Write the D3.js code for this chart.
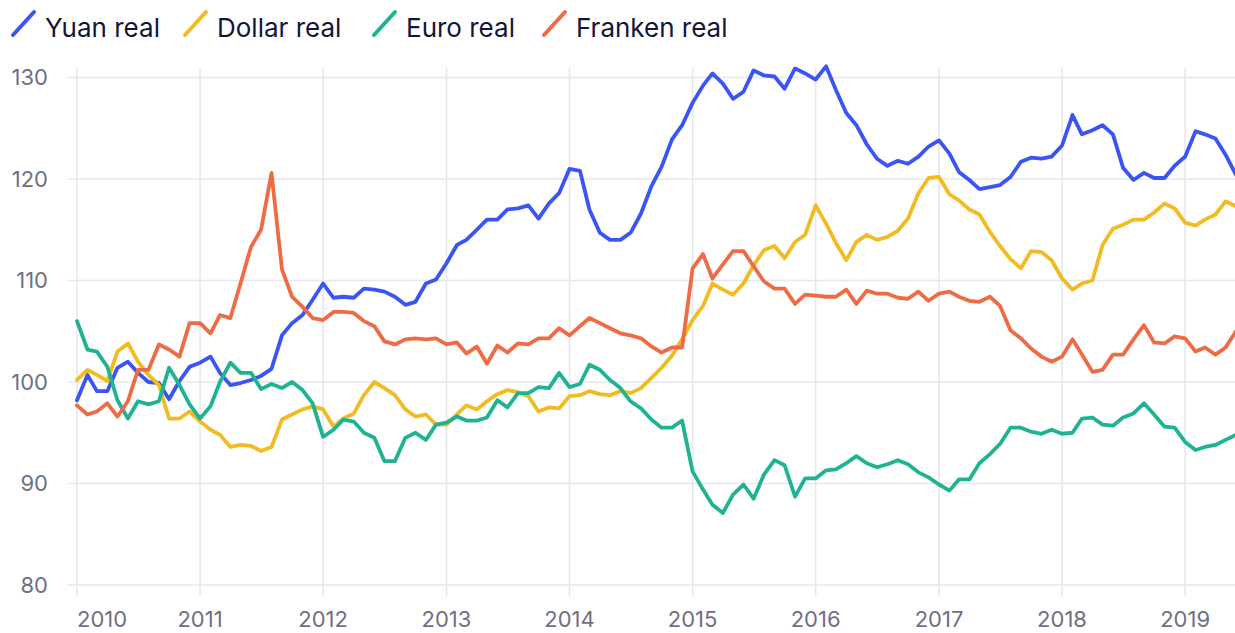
<!DOCTYPE html>
<html>
<head>
<meta charset="utf-8">
<script src="https://cdn.jsdelivr.net/npm/d3@7"></script>
<style>
  body { margin: 0; background: #fff; }
  svg { display: block; font-family: Inter, "Noto Sans", sans-serif; }
</style>
</head>
<body>
<div id="chart"></div>
<script>
// Monthly index values, Jan 2010 - Jun 2019
const seriesNames = ['Yuan real', 'Dollar real', 'Euro real', 'Franken real'];
const seriesColors = ['#3a55f4', '#f1bc22', '#20b393', '#ee6b45'];

const yuan = [
  98.2, 100.7, 99.1, 99.1, 101.4, 102.0, 100.9, 100.0, 99.9, 98.3, 100.1, 101.5,
  101.9, 102.5, 100.9, 99.7, 99.9, 100.2, 100.6, 101.3, 104.6, 105.8, 106.6, 108.1,
  109.7, 108.3, 108.4, 108.3, 109.2, 109.1, 108.9, 108.4, 107.6, 107.9, 109.7, 110.1,
  111.7, 113.5, 114.0, 115.0, 116.0, 116.0, 117.0, 117.1, 117.4, 116.1, 117.6, 118.6,
  121.0, 120.8, 117.0, 114.7, 114.0, 114.0, 114.7, 116.6, 119.3, 121.2, 123.9, 125.3,
  127.5, 129.2, 130.4, 129.4, 127.9, 128.6, 130.7, 130.2, 130.1, 128.9, 130.9, 130.4,
  129.8, 131.1, 128.8, 126.5, 125.3, 123.4, 122.0, 121.3, 121.8, 121.5, 122.2, 123.2,
  123.8, 122.5, 120.7, 119.9, 119.0, 119.2, 119.4, 120.2, 121.7, 122.1, 122.0, 122.2,
  123.3, 126.3, 124.4, 124.8, 125.3, 124.4, 121.1, 119.9, 120.6, 120.1, 120.1, 121.3,
  122.2, 124.7, 124.4, 124.0, 122.4, 120.4
];

const dollar = [
  100.2, 101.2, 100.7, 100.1, 103.0, 103.8, 102.0, 100.7, 99.7, 96.4, 96.4, 97.1,
  96.1, 95.3, 94.8, 93.6, 93.8, 93.7, 93.2, 93.6, 96.3, 96.8, 97.3, 97.6,
  97.3, 95.6, 96.4, 96.9, 98.7, 100.0, 99.4, 98.7, 97.3, 96.6, 96.8, 95.8,
  95.8, 96.8, 97.7, 97.3, 98.1, 98.8, 99.2, 99.0, 98.6, 97.1, 97.5, 97.4,
  98.6, 98.7, 99.1, 98.8, 98.7, 99.1, 98.9, 99.4, 100.4, 101.4, 102.6, 104.2,
  106.1, 107.5, 109.7, 109.1, 108.6, 109.7, 111.5, 113.0, 113.4, 112.2, 113.8, 114.5,
  117.4, 115.6, 113.7, 112.0, 113.8, 114.5, 114.0, 114.3, 114.9, 116.1, 118.6, 120.1,
  120.2, 118.5, 117.9, 117.0, 116.5, 114.8, 113.4, 112.1, 111.2, 112.9, 112.8, 112.0,
  110.2, 109.1, 109.7, 110.0, 113.5, 115.1, 115.5, 116.0, 116.0, 116.7, 117.6, 117.1,
  115.7, 115.4, 116.0, 116.5, 117.8, 117.3
];

const euro = [
  106.0, 103.2, 103.0, 101.5, 98.2, 96.4, 98.1, 97.8, 98.1, 101.4, 99.7, 97.8,
  96.4, 97.6, 100.0, 101.9, 100.9, 100.9, 99.3, 99.8, 99.4, 100.0, 99.2, 97.9,
  94.6, 95.3, 96.3, 96.1, 95.0, 94.5, 92.2, 92.2, 94.5, 95.0, 94.3, 95.8,
  96.0, 96.6, 96.2, 96.2, 96.5, 98.2, 97.5, 98.9, 98.9, 99.5, 99.4, 100.9,
  99.5, 99.8, 101.7, 101.2, 100.2, 99.4, 98.1, 97.4, 96.3, 95.5, 95.5, 96.2,
  91.2, 89.4, 87.9, 87.1, 88.9, 89.9, 88.5, 90.9, 92.3, 91.8, 88.7, 90.5,
  90.5, 91.3, 91.4, 92.0, 92.7, 92.0, 91.6, 91.9, 92.3, 91.9, 91.1, 90.6,
  89.9, 89.3, 90.4, 90.4, 92.0, 92.9, 93.9, 95.5, 95.5, 95.1, 94.9, 95.3,
  94.9, 95.0, 96.4, 96.5, 95.8, 95.7, 96.5, 96.9, 97.9, 96.8, 95.6, 95.5,
  94.1, 93.3, 93.6, 93.8, 94.3, 94.8
];

const franken = [
  97.7, 96.8, 97.1, 97.9, 96.6, 98.1, 101.2, 101.2, 103.7, 103.2, 102.5, 105.8,
  105.8, 104.8, 106.6, 106.3, 109.7, 113.3, 115.0, 120.6, 111.1, 108.4, 107.4, 106.3,
  106.1, 106.9, 106.9, 106.8, 106.0, 105.5, 104.0, 103.7, 104.2, 104.3, 104.2, 104.3,
  103.7, 103.9, 102.8, 103.5, 101.8, 103.6, 102.9, 103.8, 103.7, 104.3, 104.3, 105.3,
  104.6, 105.5, 106.3, 105.8, 105.3, 104.8, 104.6, 104.3, 103.5, 102.9, 103.4, 103.4,
  111.2, 112.6, 110.2, 111.6, 112.9, 112.9, 111.4, 109.9, 109.2, 109.2, 107.7, 108.6,
  108.5, 108.4, 108.4, 109.1, 107.7, 109.0, 108.7, 108.7, 108.3, 108.2, 108.9, 108.0,
  108.7, 108.9, 108.4, 108.0, 107.9, 108.4, 107.5, 105.1, 104.3, 103.3, 102.5, 102.0,
  102.5, 104.2, 102.7, 101.0, 101.2, 102.7, 102.7, 104.2, 105.6, 103.9, 103.8, 104.5,
  104.3, 103.0, 103.4, 102.7, 103.4, 105.0
];

const yTicks = [80, 90, 100, 110, 120, 130];
const yearTicks = [2010, 2011, 2012, 2013, 2014, 2015, 2016, 2017, 2018, 2019];

const allSeries = [yuan, dollar, euro, franken];
const months = d3.timeMonth.range(new Date(2010, 0, 1), new Date(2019, 6, 1));

const width = 1235, height = 633;

const svg = d3.select('#chart')
  .append('svg')
  .attr('width', width)
  .attr('height', height);

const x = d3.scaleTime()
  .domain([new Date(2010, 0, 1), new Date(2019, 5, 1)])
  .range([77, 1236]);

const y = d3.scaleLinear()
  .domain([80, 130])
  .range([585, 77.5]);

// Grid
const grid = svg.append('g');
grid.selectAll('.hgrid')
  .data(yTicks)
  .enter()
  .append('line')
  .attr('x1', 68)
  .attr('x2', width)
  .attr('y1', d => y(d))
  .attr('y2', d => y(d))
  .attr('stroke', '#e7e7ee')
  .attr('stroke-width', 1.6);

grid.selectAll('.vgrid')
  .data(yearTicks)
  .enter()
  .append('line')
  .attr('x1', d => x(new Date(d, 0, 1)))
  .attr('x2', d => x(new Date(d, 0, 1)))
  .attr('y1', 68)
  .attr('y2', 596)
  .attr('stroke', '#e7e7ee')
  .attr('stroke-width', 1.6);

// Y labels
svg.append('g')
  .selectAll('text')
  .data(yTicks)
  .enter()
  .append('text')
  .attr('x', 48)
  .attr('y', d => y(d))
  .attr('dy', '0.35em')
  .attr('text-anchor', 'end')
  .attr('fill', '#6f6f86')
  .style('font-size', '22px')
  .text(d => d);

// X labels
svg.append('g')
  .selectAll('text')
  .data(yearTicks)
  .enter()
  .append('text')
  .attr('x', d => x(new Date(d, 0, 1)))
  .attr('y', 627)
  .attr('text-anchor', (d, i) => i === 0 ? 'start' : 'middle')
  .attr('fill', '#6f6f86')
  .style('font-size', '22px')
  .text(d => d);

// Lines
const line = d3.line()
  .x((d, i) => x(months[i]))
  .y(d => y(d));

svg.append('g')
  .selectAll('path')
  .data(allSeries)
  .enter()
  .append('path')
  .attr('d', d => line(d))
  .attr('fill', 'none')
  .attr('stroke', (d, i) => seriesColors[i])
  .attr('stroke-width', 3.8)
  .attr('stroke-linejoin', 'round')
  .attr('stroke-linecap', 'round');

// Legend
const legendX = [12, 184, 373, 543];
const legend = svg.append('g');
seriesNames.forEach((name, i) => {
  const g = legend.append('g')
    .attr('transform', `translate(${legendX[i]}, 0)`);
  g.append('line')
    .attr('x1', 1)
    .attr('y1', 35)
    .attr('x2', 22)
    .attr('y2', 12)
    .attr('stroke', seriesColors[i])
    .attr('stroke-width', 4)
    .attr('stroke-linecap', 'round');
  g.append('text')
    .attr('x', 33)
    .attr('y', 37)
    .attr('fill', '#15153a')
    .style('font-size', '26px')
    .text(name);
});
</script>
</body>
</html>
